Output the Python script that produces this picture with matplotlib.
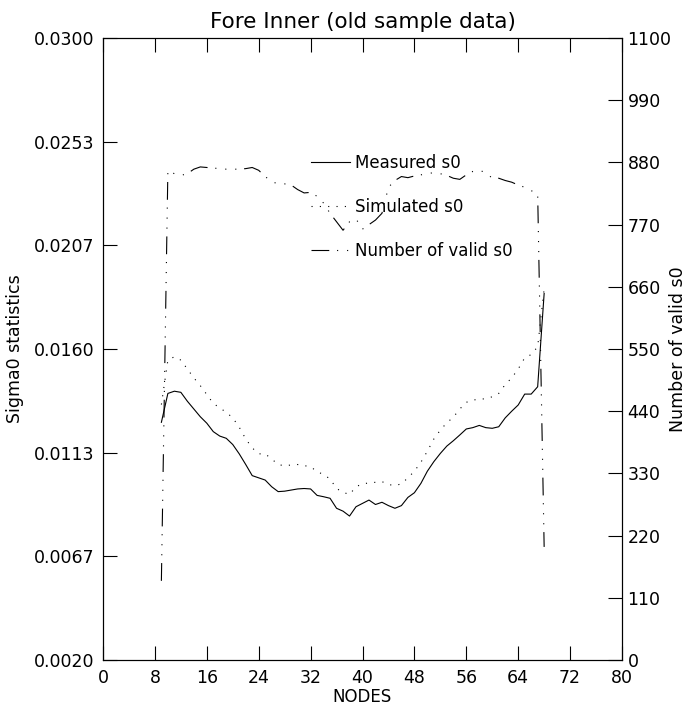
import numpy as np
import matplotlib
matplotlib.use('Agg')
from matplotlib import pyplot as plt

# node numbers (9..68)
nodes = np.arange(9, 69)

measured_s0 = [
    0.01270, 0.01400, 0.01410, 0.01405, 0.01365, 0.01330, 0.01295, 0.01266, 0.01228, 0.01208,
    0.01198, 0.01170, 0.01128, 0.01080, 0.01030, 0.01020, 0.01010, 0.00980, 0.00958, 0.00960,
    0.00965, 0.00970, 0.00972, 0.00970, 0.00941, 0.00935, 0.00928, 0.00883, 0.00870, 0.00848,
    0.00890, 0.00905, 0.00920, 0.00900, 0.00910, 0.00895, 0.00883, 0.00895, 0.00932, 0.00953,
    0.00995, 0.01050, 0.01093, 0.01130, 0.01163, 0.01187, 0.01213, 0.01240, 0.01246, 0.01256,
    0.01246, 0.01243, 0.01250, 0.01290, 0.01320, 0.01348, 0.01397, 0.01397, 0.01430, 0.01850,
]

simulated_s0 = [
    0.01350, 0.01550, 0.01565, 0.01550, 0.01510, 0.01470, 0.01435, 0.01395, 0.01355, 0.01335,
    0.01315, 0.01290, 0.01248, 0.01195, 0.01155, 0.01128, 0.01128, 0.01105, 0.01080, 0.01074,
    0.01078, 0.01080, 0.01075, 0.01070, 0.01048, 0.01035, 0.01015, 0.00972, 0.00955, 0.00945,
    0.00980, 0.00993, 0.00997, 0.01000, 0.01003, 0.00990, 0.00985, 0.00993, 0.01020, 0.01050,
    0.01090, 0.01140, 0.01195, 0.01235, 0.01268, 0.01293, 0.01330, 0.01360, 0.01370, 0.01374,
    0.01376, 0.01385, 0.01400, 0.01440, 0.01470, 0.01510, 0.01560, 0.01575, 0.01610, 0.01870,
]

n_valid = [
    140, 866, 860, 857, 860, 868, 872, 871, 870, 869,
    868, 868, 868, 869, 871, 866, 855, 846, 842, 842,
    840, 832, 826, 827, 820, 808, 790, 775, 760, 775,
    780, 762, 770, 778, 790, 836, 848, 855, 853, 856,
    858, 860, 862, 860, 857, 852, 850, 858, 864, 866,
    862, 852, 852, 848, 845, 840, 836, 830, 825, 200,
]

left_ticks = np.linspace(0.0020, 0.0300, 7)
right_ticks = np.arange(0, 1101, 110)
x_ticks = np.arange(0, 81, 8)

plt.rcParams['font.family'] = ['DejaVu Sans']
fs = 12
tfs = 12.5

fig = plt.figure(figsize=(6.89, 7.06), dpi=100)
ax = fig.add_axes([103/689, 1-660/706, 519/689, 622/706])
ax2 = ax.twinx()

lw = 0.8
l1, = ax.plot(nodes, measured_s0, color='black', lw=lw, linestyle='-', label='Measured s0')
l2, = ax.plot(nodes, simulated_s0, color='black', lw=lw, linestyle=(0, (1, 6.5)), label='Simulated s0')
l3, = ax2.plot(nodes, n_valid, color='black', lw=lw, linestyle=(0, (16, 7, 1, 8, 1, 8, 1, 7)),
               label='Number of valid s0')

ax.set_xlim(0, 80)
ax.set_ylim(0.0020, 0.0300)
ax2.set_ylim(0, 1100)
ax.set_xticks(x_ticks)
ax.set_yticks(left_ticks)
ax.set_yticklabels(['%.4f' % t for t in left_ticks])
ax2.set_yticks(right_ticks)

ax.tick_params(axis='x', direction='in', length=10, width=0.8, top=True, pad=6.5, labelsize=tfs)
ax.tick_params(axis='y', direction='in', length=10, width=0.8, pad=6, labelsize=tfs)
ax2.tick_params(axis='y', direction='in', length=10, width=0.8, pad=4, labelsize=tfs)
for a in (ax, ax2):
    for s in a.spines.values():
        s.set_linewidth(0.8)

ax.set_xlabel('NODES', fontsize=fs, labelpad=0.5)
ax.set_ylabel('Sigma0 statistics', fontsize=12.5, ha='center', va='center')
ax.yaxis.set_label_coords(-0.170, 0.5)
ax2.set_ylabel('Number of valid s0', fontsize=12.5, ha='center', va='center')
ax2.yaxis.set_label_coords(1.108, 0.5)
ax.set_title('Fore Inner (old sample data)', fontsize=15.5, pad=7)

ax2.legend(handles=[l1, l2, l3], loc='upper left', bbox_to_anchor=(0.4008, 0.8135),
           frameon=False, fontsize=fs, borderpad=0, borderaxespad=0,
           handlelength=2.35, handletextpad=0.3, labelspacing=1.56)

fig.savefig('out.png', dpi=100)
